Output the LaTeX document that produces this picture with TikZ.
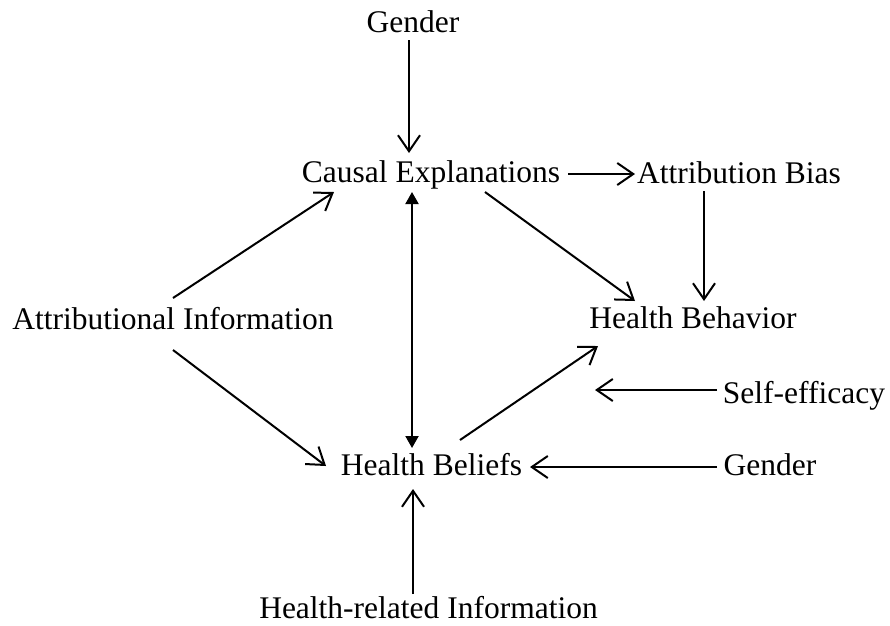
\documentclass[tikz,border=0pt]{standalone}
\usepackage{fontspec}
\setmainfont{Liberation Serif}
\usetikzlibrary{arrows.meta,calc}
\begin{document}
\begin{tikzpicture}[x=1pt,y=-1pt,
  lbl/.style={inner sep=0pt,outer sep=0pt,anchor=base,font=\fontsize{31.5}{36}\selectfont},
  arr/.style={line width=2pt,-{Straight Barb[length=16pt,width=22pt]}},
  darr/.style={line width=2pt,{Triangle[length=12pt,width=13pt]}-{Triangle[length=12pt,width=13pt]}}]
\useasboundingbox (0,0) rectangle (890,625);
\node[lbl] (g1) at (413,32) {Gender};
\node[lbl] (ce) at (431,182) {Causal Explanations};
\node[lbl] (ab) at (739,183) {Attribution Bias};
\node[lbl] (ai) at (173,329) {Attributional Information};
\node[lbl] (hb) at (693,328) {Health Behavior};
\node[lbl] (se) at (804,403) {Self-efficacy};
\node[lbl] (hbel) at (431.5,475) {Health Beliefs};
\node[lbl] (g2) at (770,475) {Gender};
\node[lbl] (hri) at (428.5,618) {Health-related Information};
\coordinate (sefree) at (595,390);
% arrows
\draw[arr] ($(g1.base)+(-4,8)$) -- ($(ce.base)+(-22,-29)$);
\draw[arr] ($(ce.base)+(137,-8)$) -- ($(ab.base)+(-104,-9)$);
\draw[arr] ($(ab.base)+(-35,8)$) -- ($(hb.base)+(11,-27)$);
\draw[arr] ($(ce.base)+(54,10)$) -- ($(hb.base)+(-58,-27)$);
\draw[arr] ($(ai.base)+(0,-31)$) -- ($(ce.base)+(-97,10)$);
\draw[arr] ($(ai.base)+(0,21)$) -- ($(hbel.base)+(-105.5,-9)$);
\draw[darr] ($(ce.base)+(-19,10)$) -- ($(hbel.base)+(-19.5,-27)$);
\draw[arr] ($(hbel.base)+(28.5,-35)$) -- ($(hb.base)+(-95,18)$);
\draw[arr] ($(se.base)+(-87,-13)$) -- (sefree);
\draw[arr] ($(g2.base)+(-53,-8)$) -- ($(hbel.base)+(98.5,-8)$);
\draw[arr] ($(hri.base)+(-15.5,-24)$) -- ($(hbel.base)+(-18.5,14)$);
\end{tikzpicture}
\end{document}
